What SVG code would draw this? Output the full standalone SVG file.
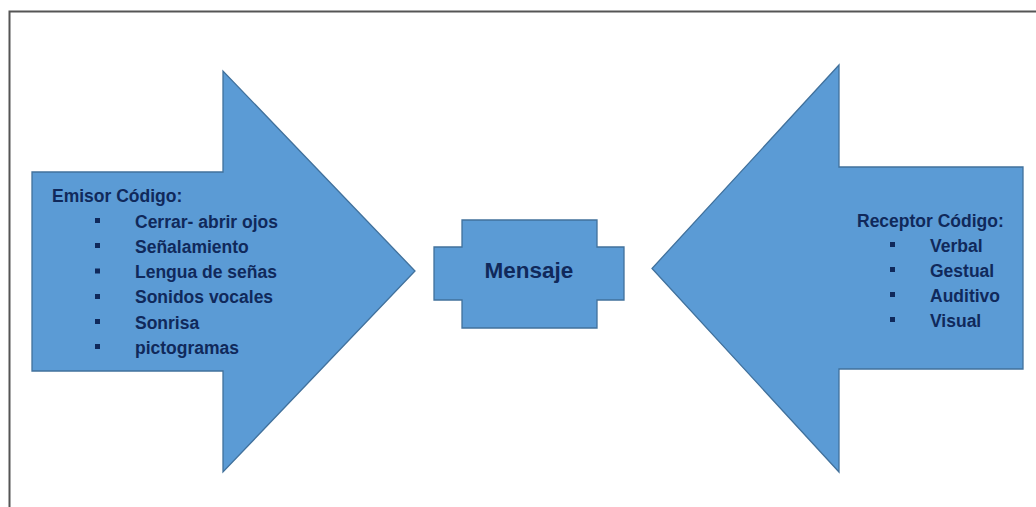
<svg xmlns="http://www.w3.org/2000/svg" width="1036" height="507" viewBox="0 0 1036 507">
<style>
.shape{fill:#5b9bd5;stroke:#41719c;stroke-width:1.3}
.t{font-family:"Liberation Sans",Arial,sans-serif;font-weight:bold;font-size:17.5px;fill:#10295b}
.m{font-family:"Liberation Sans",Arial,sans-serif;font-weight:bold;font-size:22.5px;fill:#10295b}
.b{fill:#10295b}
</style>
<rect width="1036" height="507" fill="#ffffff"/>
<path d="M9.5 507 V11.5 H1036" fill="none" stroke="#555" stroke-width="2"/>
<g id="emisor">
<polygon class="shape" points="32,172 223,172 223,71 415,271 223,472 223,371 32,371"/>
<text class="t" x="52" y="202">Emisor Código:</text>
<g class="b">
<rect x="95" y="218" width="5" height="5"/>
<rect x="95" y="243" width="5" height="5"/>
<rect x="95" y="268.5" width="5" height="5"/>
<rect x="95" y="294" width="5" height="5"/>
<rect x="95" y="319" width="5" height="5"/>
<rect x="95" y="344" width="5" height="5"/>
</g>
<text class="t" x="135" y="227.5">Cerrar- abrir ojos</text>
<text class="t" x="135" y="252.5">Señalamiento</text>
<text class="t" x="135" y="278">Lengua de señas</text>
<text class="t" x="135" y="303">Sonidos vocales</text>
<text class="t" x="135" y="328.5">Sonrisa</text>
<text class="t" x="135" y="353.5">pictogramas</text>
</g>
<g id="mensaje">
<polygon class="shape" points="462,220 597,220 597,247 624,247 624,300 597,300 597,328 462,328 462,300 434,300 434,247 462,247"/>
<text class="m" x="529" y="278" text-anchor="middle">Mensaje</text>
</g>
<g id="receptor">
<polygon class="shape" points="1023,167 839,167 839,65 652,268.5 839,472 839,369 1023,369"/>
<text class="t" x="857" y="226.5">Receptor Código:</text>
<g class="b">
<rect x="890" y="242" width="5" height="5"/>
<rect x="890" y="267" width="5" height="5"/>
<rect x="890" y="292" width="5" height="5"/>
<rect x="890" y="317" width="5" height="5"/>
</g>
<text class="t" x="930" y="251.5">Verbal</text>
<text class="t" x="930" y="276.5">Gestual</text>
<text class="t" x="930" y="301.5">Auditivo</text>
<text class="t" x="930" y="326.5">Visual</text>
</g>
<g id="connectors"></g>
</svg>
